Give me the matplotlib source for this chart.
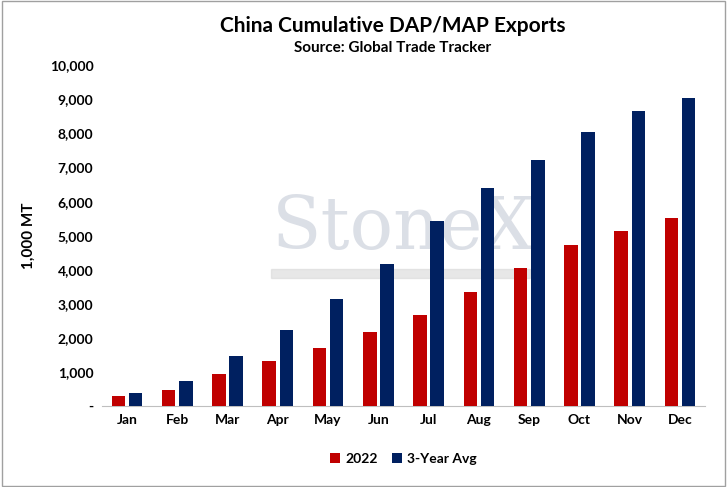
import matplotlib.pyplot as plt
import numpy as np
from matplotlib.ticker import FuncFormatter
from matplotlib.patches import Rectangle

months = ["Jan","Feb","Mar","Apr","May","Jun","Jul","Aug","Sep","Oct","Nov","Dec"]
v2022 = [290,460,940,1320,1700,2170,2660,3340,4050,4730,5130,5520]
avg3 = [380,740,1480,2230,3140,4160,5440,6400,7220,8030,8650,9040]

plt.rcParams['font.family'] = ['Lato','DejaVu Sans']
fig = plt.figure(figsize=(7.27,4.87), dpi=100)
ax = fig.add_axes([0.14, 0.166, 0.83, 0.70])
x = np.arange(len(months))
w = 0.27
ax.bar(x-0.17, v2022, w, color='#C00000', label='2022', zorder=3)
ax.bar(x+0.17, avg3, w, color='#002060', label='3-Year Avg', zorder=3)
ax.set_ylim(0,10000)
ax.set_xlim(-0.5,11.5)
ax.set_yticks(range(0,10001,1000))
ax.yaxis.set_major_formatter(FuncFormatter(lambda v,p: '-' if v==0 else f'{int(v):,}'))
ax.set_xticks(x, months)
for s in ['top','right','left']:
    ax.spines[s].set_visible(False)
ax.spines['bottom'].set_color('#bfbfbf')
ax.tick_params(length=0, labelsize=10, pad=6)
for t in ax.get_xticklabels()+ax.get_yticklabels():
    t.set_fontweight('bold')
ax.set_ylabel('1,000 MT', fontsize=11, fontweight='bold', labelpad=10)
fig.text(0.54, 0.935, 'China Cumulative DAP/MAP Exports', ha='center', fontsize=15, fontweight='bold')
fig.text(0.54, 0.893, 'Source: Global Trade Tracker', ha='center', fontsize=11, fontweight='bold')
ax.text(0.5, 0.52, 'StoneX', transform=ax.transAxes, ha='center', va='center', fontsize=52, color='#b0b8c8', alpha=0.45, family='DejaVu Serif', zorder=1)
ax.add_patch(Rectangle((0.28,0.375),0.43,0.028, transform=ax.transAxes, color='#d8d8d8', alpha=0.6, zorder=1))
ax.legend(loc='upper center', bbox_to_anchor=(0.5,-0.1), ncol=2, frameon=False,
          handlelength=0.7, handleheight=0.7, handletextpad=0.4, columnspacing=1.0, prop={'weight':'bold','size':10})
fig.patches.append(Rectangle((0.003,0.003),0.994,0.994, transform=fig.transFigure, fill=False, ec='#a0a0a0', lw=1))
fig.savefig('out.png', dpi=100)
